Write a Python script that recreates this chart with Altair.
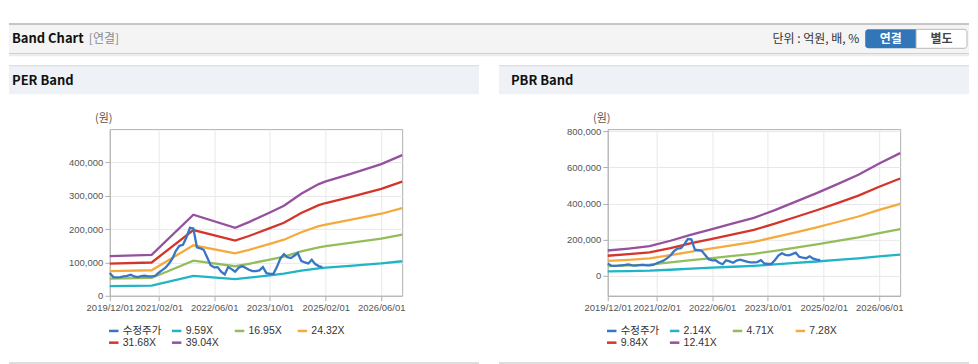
import altair as alt
import pandas as pd

# ---------------- data ----------------
# 수정주가 (monthly, from 2019/12 to 2025/01), won
price_start = "2019-12-01"
price_values = [68000, 56000, 55000, 56000, 58000, 60000, 63000, 58000, 56000, 59000,
                60000, 58000, 58000, 60000, 69000, 76000, 84000, 96000, 112000, 135000,
                150000, 153000, 175000, 204000, 202000, 145000, 142000, 138000, 115000, 92000,
                85000, 86000, 72000, 64000, 86000, 80000, 72000, 84000, 89000, 84000,
                78000, 74000, 74000, 76000, 86000, 68000, 66000, 66000, 86000, 112000,
                125000, 116000, 113000, 120000, 128000, 105000, 100000, 97000, 108000, 95000,
                89000, 86000]

# PER band
per_dates = ["2019-12-01", "2020-12-01", "2021-12-01", "2022-12-01", "2023-04-01", "2023-10-01",
             "2024-02-01", "2024-07-01", "2024-12-01", "2025-02-01", "2025-09-01", "2026-06-01",
             "2026-12-01"]
per_names = ["9.59X", "16.95X", "24.32X", "31.68X", "39.04X"]
per_959 = [29200, 30200, 59700, 50100, 54300, 61400, 66300, 75200, 82300, 84200, 89600, 97000, 103600]
per_1695 = [51700, 53400, 105500, 88600, 96000, 108600, 117200, 132900, 145500, 148900, 158500, 171500, 183200]
per_2432 = [74100, 76600, 151400, 127100, 137700, 155800, 168200, 190600, 208700, 213700, 227400, 246100, 262900]
per_3168 = [96600, 99800, 197200, 165500, 179300, 202900, 219100, 248300, 271900, 278300, 296200, 320500, 342500]
per_3904 = [119000, 123000, 243000, 204000, 221000, 250000, 270000, 306000, 335000, 343000, 365000, 395000, 422000]

# PBR band
pbr_dates = ["2019-12-01", "2020-06-01", "2020-12-01", "2021-06-01", "2021-12-01", "2022-06-01",
             "2022-12-01", "2023-06-01", "2023-12-01", "2024-06-01", "2024-12-01", "2025-06-01",
             "2025-12-01", "2026-06-01", "2026-12-01"]
pbr_names = ["2.14X", "4.71X", "7.28X", "9.84X", "12.41X"]
pbr_214 = [24100, 26000, 28300, 33400, 39300, 44500, 50000, 55300, 62800, 70900, 79000, 87600, 96500, 107200, 117200]
pbr_471 = [53100, 57300, 62200, 73600, 86500, 97900, 110100, 121800, 138100, 156000, 173800, 192800, 212500, 236000, 258100]
pbr_728 = [82100, 88600, 96200, 113800, 133700, 151300, 170100, 188300, 213500, 241100, 268700, 298000, 328500, 364900, 398900]
pbr_984 = [111000, 119700, 130000, 153800, 180800, 204600, 229900, 254500, 288600, 325900, 363100, 402800, 444000, 493200, 539200]
pbr_1241 = [140000, 151000, 164000, 194000, 228000, 258000, 290000, 321000, 364000, 411000, 458000, 508000, 560000, 622000, 680000]

price_name = "수정주가"
x_tick_dates = [(2019, 12), (2021, 2), (2022, 6), (2023, 10), (2025, 2), (2026, 6)]
per_y_ticks = [0, 100000, 200000, 300000, 400000]
pbr_y_ticks = [0, 200000, 400000, 600000, 800000]

COLORS = ["#3775c5", "#20b4c6", "#93bd5b", "#f5aa3c", "#d4352b", "#95509e"]

# ---------------- tables ----------------
price_df = pd.DataFrame({
    "date": pd.date_range(price_start, periods=len(price_values), freq="MS"),
    "value": price_values,
    "series": price_name,
})


def band_table(dates, names, series_list):
    rows = []
    for name, vals in zip(names, series_list):
        for d, v in zip(dates, vals):
            rows.append({"date": pd.Timestamp(d), "value": v, "series": name})
    return pd.DataFrame(rows)


per_df = band_table(per_dates, per_names, [per_959, per_1695, per_2432, per_3168, per_3904])
pbr_df = band_table(pbr_dates, pbr_names, [pbr_214, pbr_471, pbr_728, pbr_984, pbr_1241])

dummy = pd.DataFrame({"k": [0]})

W, H = 293, 167
FONT = "Liberation Sans, Noto Sans CJK KR"
KFONT = "Noto Sans CJK KR"


def rect(x, x2, y, y2, **kw):
    return alt.Chart(dummy).mark_rect(**kw).encode(
        x=alt.value(x), x2=alt.value(x2), y=alt.value(y), y2=alt.value(y2))


def label(text, x, y, **kw):
    return alt.Chart(dummy).mark_text(text=text, baseline="middle", **kw).encode(
        x=alt.value(x), y=alt.value(y))


def plot_layers(band_df, names, y_domain, y_ticks):
    domain = [price_name] + names
    legend = alt.Legend(title=None, orient="none", legendX=-2, legendY=196, columns=4,
                        direction="horizontal",
                        symbolType="stroke", symbolSize=90, symbolStrokeWidth=2.5,
                        labelFont=FONT, labelFontSize=10.5, labelColor="#333",
                        columnPadding=5, rowPadding=0, gridAlign="all", labelOffset=3,
                        padding=0, values=domain)
    color = alt.Color("series:N", sort=domain,
                      scale=alt.Scale(domain=domain, range=COLORS), legend=legend)
    x = alt.X("date:T", title=None,
              scale=alt.Scale(domain=[alt.DateTime(year=2019, month=12, date=1),
                                      alt.DateTime(year=2026, month=12, date=1)]),
              axis=alt.Axis(values=[alt.DateTime(year=yy, month=mm, date=1) for yy, mm in x_tick_dates],
                            format="%Y/%m/%d", labelFlush=False, labelOverlap=False,
                            grid=True, tickSize=5, labelPadding=2))
    y = alt.Y("value:Q", title=None,
              scale=alt.Scale(domain=y_domain, nice=False, zero=False),
              axis=alt.Axis(values=y_ticks, format=",d", grid=True, tickSize=5, labelPadding=2))
    bands = alt.Chart(band_df).mark_line(strokeWidth=2.3).encode(x=x, y=y, color=color)
    price = alt.Chart(price_df).mark_line(strokeWidth=2.3).encode(x=x, y=y, color=color)
    return [bands, price]


# ---------------- left panel (with page header) ----------------
# coordinates relative to each plot's top-left corner
left_decor = [
    # page header bar
    rect(-101, 861, -106, -75, color="#f4f4f4"),
    rect(-101, 861, -106, -104.7, color="#b6b6b6"),
    rect(-101, 861, -76, -75, color="#c6c6c6"),
    rect(-101, 861, -75, -73, color="#ececec"),
    label("Band Chart", -98, -90.5, align="left", font=KFONT, fontSize=13, fontWeight="bold", color="#111"),
    label("[연결]", -21, -90.5, align="left", font=KFONT, fontSize=12, color="#8a8a8a"),
    label("단위 : 억원, 배, %", 751, -90.5, align="right", font=KFONT, fontSize=12, color="#333"),
    rect(757, 808, -100, -81, color="#3275b9", cornerRadiusTopLeft=3, cornerRadiusBottomLeft=3),
    rect(808, 859, -100, -81, color="#ffffff", stroke="#b8b8b8", strokeWidth=1,
         cornerRadiusTopRight=3, cornerRadiusBottomRight=3),
    label("연결", 782.5, -90.5, align="center", font=KFONT, fontSize=12, fontWeight="bold", color="#ffffff"),
    label("별도", 833.5, -90.5, align="center", font=KFONT, fontSize=12, fontWeight="bold", color="#444"),
    # panel header
    rect(-101, 370, -64, -35, color="#eef2f7"),
    rect(-101, 370, -64, -63, color="#d6dadf"),
    label("PER Band", -98, -48.5, align="left", font=KFONT, fontSize=13, fontWeight="bold", color="#111"),
    label("(원)", -6, -10.5, align="center", font=KFONT, fontSize=11, color="#555"),
    rect(-101, 370, 233.5, 235, color="#d2d2d2"),
]
left = alt.layer(*left_decor, *plot_layers(per_df, per_names, [0, 500000], per_y_ticks)).properties(width=W, height=H)

right_decor = [
    rect(-109, 362, -64, -35, color="#eef2f7"),
    rect(-109, 362, -64, -63, color="#d6dadf"),
    label("PBR Band", -97, -48.5, align="left", font=KFONT, fontSize=13, fontWeight="bold", color="#111"),
    label("(원)", -6, -10.5, align="center", font=KFONT, fontSize=11, color="#555"),
    rect(-109, 362, 233.5, 235, color="#d2d2d2"),
]
right = alt.layer(*right_decor, *plot_layers(pbr_df, pbr_names, [-111000, 813000], pbr_y_ticks)).properties(width=W, height=H)

chart = (
    alt.hconcat(left, right, spacing=206, bounds="flush")
    .resolve_scale(color="independent")
    .properties(padding={"left": 0, "top": 14, "right": 0, "bottom": 0}, background="white")
    .configure_view(stroke="#b0b0b0", strokeWidth=1)
    .configure_axis(labelFont=FONT, labelFontSize=9.5, labelColor="#555",
                    domainColor="#b0b0b0", tickColor="#b0b0b0", gridColor="#e8e8e8")
)

chart.save("out.html", embed_options={"renderer": "svg", "actions": False})
